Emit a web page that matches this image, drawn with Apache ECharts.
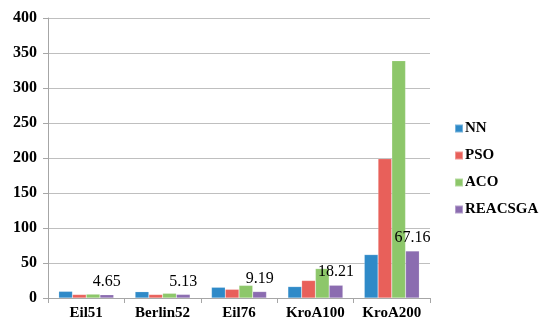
<!DOCTYPE html>
<html>
<head>
<meta charset="utf-8">
<script src="https://cdn.jsdelivr.net/npm/echarts@6/dist/echarts.min.js"></script>
<style>
  html, body { margin: 0; padding: 0; background: #fff; }
  #chart { width: 540px; height: 323px; }
</style>
</head>
<body>
<div id="chart"></div>
<script>
// 数据
const categories = ['Eil51', 'Berlin52', 'Eil76', 'KroA100', 'KroA200']
const nnValues = [9.5, 9, 15.3, 16.3, 62]
const psoValues = [5, 5, 12.4, 25, 199]
const acoValues = [5.5, 6.7, 18, 42, 339]
const reacsgaValues = [4.65, 5.13, 9.19, 18.21, 67.16]

const colors = {
  nn: '#2f8ac8',
  pso: '#e8605a',
  aco: '#8dc76a',
  reacsga: '#8b6cb0'
}

const fontFamily = 'Times New Roman, Liberation Serif, serif'

const chart = echarts.init(document.getElementById('chart'))

const makeSeries = (name, data, color, withLabel) => ({
  name,
  type: 'bar',
  data,
  barGap: '0%',
  barCategoryGap: '28%',
  itemStyle: { color, borderColor: 'rgba(255,255,255,0.35)', borderWidth: 0.5 },
  label: {
    show: withLabel,
    position: 'top',
    distance: 5,
    color: '#000',
    fontFamily,
    fontSize: 16,
    formatter: (p) => p.value.toFixed(2)
  }
})

const option = {
  animation: false,
  backgroundColor: '#fff',
  grid: { left: 48, right: 110, top: 18, bottom: 25 },
  legend: {
    orient: 'vertical',
    left: 449,
    top: 116,
    itemWidth: 8,
    itemHeight: 8,
    itemGap: 12,
    icon: 'rect',
    textStyle: { fontFamily, fontSize: 15, fontWeight: 'bold', color: '#000', padding: [0, 0, 0, -3] },
    data: ['NN', 'PSO', 'ACO', 'REACSGA']
  },
  xAxis: {
    type: 'category',
    data: categories,
    axisLine: { lineStyle: { color: '#a6a6a6' } },
    axisTick: { show: true, length: 5, lineStyle: { color: '#a6a6a6' } },
    axisLabel: { interval: 0, fontFamily, fontSize: 15, fontWeight: 'bold', color: '#000', margin: 8 }
  },
  yAxis: {
    type: 'value',
    min: 0,
    max: 400,
    interval: 50,
    axisLine: { show: true, lineStyle: { color: '#a6a6a6' } },
    axisTick: { show: true, length: 5, lineStyle: { color: '#a6a6a6' } },
    splitLine: { lineStyle: { color: '#bfbfbf' } },
    axisLabel: { fontFamily, fontSize: 16, fontWeight: 'bold', color: '#000', margin: 11 }
  },
  series: [
    makeSeries('NN', nnValues, colors.nn, false),
    makeSeries('PSO', psoValues, colors.pso, false),
    makeSeries('ACO', acoValues, colors.aco, false),
    makeSeries('REACSGA', reacsgaValues, colors.reacsga, true)
  ]
}

chart.setOption(option)
</script>
</body>
</html>
